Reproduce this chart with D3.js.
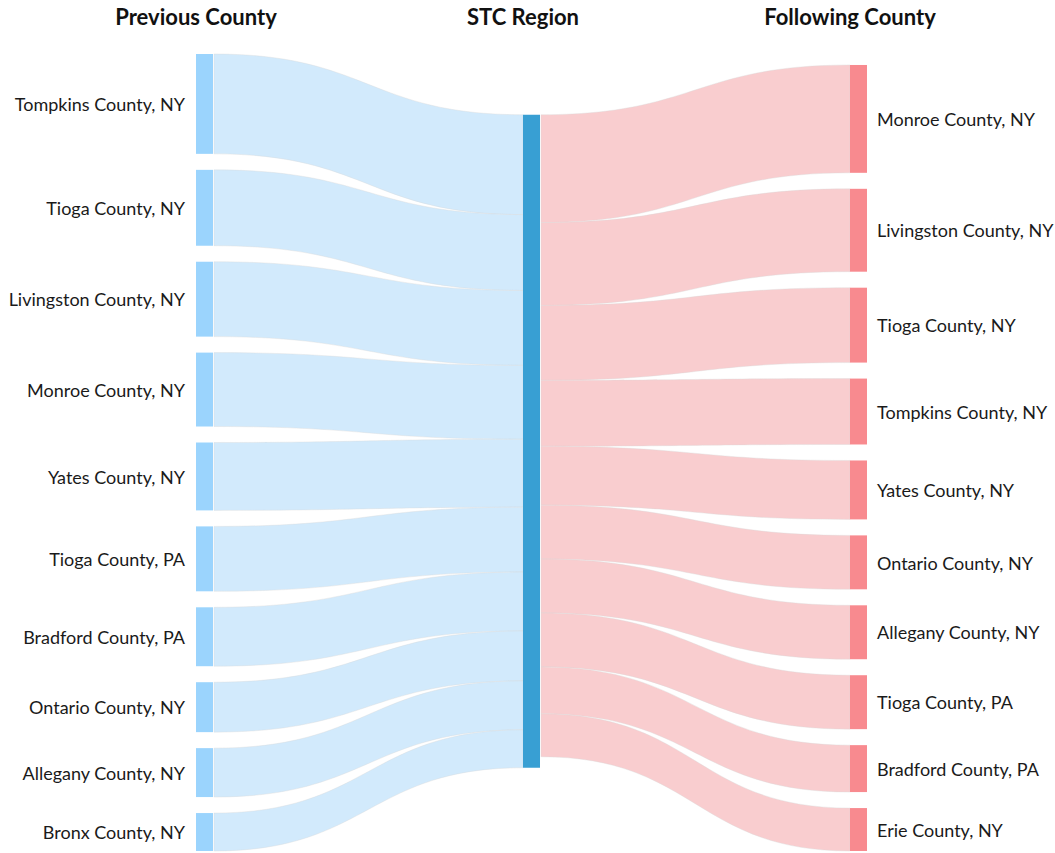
<!DOCTYPE html>
<html>
<head>
<meta charset="utf-8">
<script src="https://cdn.jsdelivr.net/npm/d3@7"></script>
<style>
  body { margin: 0; background: #fff; }
  svg text { font-family: Lato, "Open Sans", sans-serif; }
</style>
</head>
<body>
<div id="chart"></div>
<script>
  // column titles
  var columnTitles = ["Previous County", "STC Region", "Following County"];

  // previous county -> STC region
  var previousCounties = ["Tompkins County, NY", "Tioga County, NY", "Livingston County, NY", "Monroe County, NY",
    "Yates County, NY", "Tioga County, PA", "Bradford County, PA", "Ontario County, NY",
    "Allegany County, NY", "Bronx County, NY"];
  var previousValues = [100, 76, 75, 74, 68, 65, 59, 50, 49, 38];

  // STC region -> following county
  var followingCounties = ["Monroe County, NY", "Livingston County, NY", "Tioga County, NY", "Tompkins County, NY",
    "Yates County, NY", "Ontario County, NY", "Allegany County, NY", "Tioga County, PA",
    "Bradford County, PA", "Erie County, NY"];
  var followingValues = [108, 83, 75, 66, 59, 54, 54, 54, 47, 43];

  var width = 1055, height = 853,
      extentTop = 54, extentBottom = 851,
      nodeWidth = 17, nodePadding = 16;

  var svg = d3.select("#chart")
    .append("svg")
      .attr("width", width)
      .attr("height", height);

  //scales
  var xScale = d3.scaleLinear()
    .domain([0, 2])
    .range([196, 850]);

  var sumPrev = d3.sum(previousValues),
      sumFoll = d3.sum(followingValues),
      sumMax = Math.max(sumPrev, sumFoll),
      maxNodes = Math.max(previousValues.length, followingValues.length);

  var kScale = d3.scaleLinear()
    .domain([0, sumMax])
    .range([0, (extentBottom - extentTop) - (maxNodes - 1) * nodePadding]);

  //stack a column of nodes, pushed against the bottom
  function stack(names, values, col) {
    var total = d3.sum(values.map(kScale)) + (values.length - 1) * nodePadding;
    var y = extentBottom - total;
    return names.map(function(n, i) {
      var h = kScale(values[i]);
      var node = {name: n, col: col, value: values[i], y0: y, y1: y + h};
      y += h + nodePadding;
      return node;
    });
  }

  var leftNodes = stack(previousCounties, previousValues, 0);
  var rightNodes = stack(followingCounties, followingValues, 2);

  // middle node centred on weighted centre of its sources
  var midCenter = d3.sum(leftNodes, function(d) { return d.value * (d.y0 + d.y1) / 2; }) / sumPrev;
  var midH = kScale(sumMax);
  var midNode = {name: "STC Region", col: 1, value: sumMax, y0: midCenter - midH / 2, y1: midCenter + midH / 2};

  //links
  var links = [];
  var yIn = midNode.y0;
  leftNodes.forEach(function(d) {
    var w = kScale(d.value);
    links.push({side: "in", sx: xScale(0) + nodeWidth, tx: xScale(1),
      sy0: d.y0, sy1: d.y1, ty0: yIn, ty1: yIn + w});
    yIn += w;
  });
  var yOut = midNode.y0;
  rightNodes.forEach(function(d) {
    var w = kScale(d.value);
    links.push({side: "out", sx: xScale(1) + nodeWidth, tx: xScale(2),
      sy0: yOut, sy1: yOut + w, ty0: d.y0, ty1: d.y1});
    yOut += w;
  });

  var ribbon = d3.area()
    .curve(d3.curveBumpX)
    .x(function(p) { return p.x; })
    .y0(function(p) { return p.y0; })
    .y1(function(p) { return p.y1; });

  svg.append("g")
    .selectAll("path")
    .data(links)
    .enter()
    .append("path")
      .attr("d", function(d) {
        return ribbon([{x: d.sx + 1, y0: d.sy0, y1: d.sy1}, {x: d.tx, y0: d.ty0, y1: d.ty1}]);
      })
      .attr("fill", function(d) { return d.side == "in" ? "#d2eafc" : "#f9cdcf"; })
      .attr("stroke", "#d9d9d9")
      .attr("stroke-opacity", 0.6)
      .attr("stroke-width", 0.6);

  //nodes
  var nodes = leftNodes.concat([midNode]).concat(rightNodes);
  var nodeColors = ["#9bd4fd", "#389fd3", "#f88a8f"];

  svg.append("g")
    .selectAll("rect")
    .data(nodes)
    .enter()
    .append("rect")
      .attr("x", function(d) { return xScale(d.col); })
      .attr("y", function(d) { return d.y0; })
      .attr("width", nodeWidth)
      .attr("height", function(d) { return d.y1 - d.y0; })
      .attr("fill", function(d) { return nodeColors[d.col]; });

  //labels
  svg.append("g")
    .selectAll("text")
    .data(leftNodes.concat(rightNodes))
    .enter()
    .append("text")
      .attr("x", function(d) { return d.col == 0 ? xScale(0) - 11 : xScale(2) + nodeWidth + 10; })
      .attr("y", function(d) { return (d.y0 + d.y1) / 2; })
      .attr("dy", "0.4em")
      .attr("text-anchor", function(d) { return d.col == 0 ? "end" : "start"; })
      .attr("font-size", "18px")
      .attr("fill", "#1a1a1a")
      .text(function(d) { return d.name; });

  //column titles
  svg.append("g")
    .selectAll("text")
    .data(columnTitles)
    .enter()
    .append("text")
      .attr("x", function(d, i) { return xScale(i); })
      .attr("y", 25)
      .attr("text-anchor", "middle")
      .attr("font-size", "22px")
      .attr("font-weight", "bold")
      .attr("fill", "#111")
      .text(function(d) { return d; });
</script>
</body>
</html>
